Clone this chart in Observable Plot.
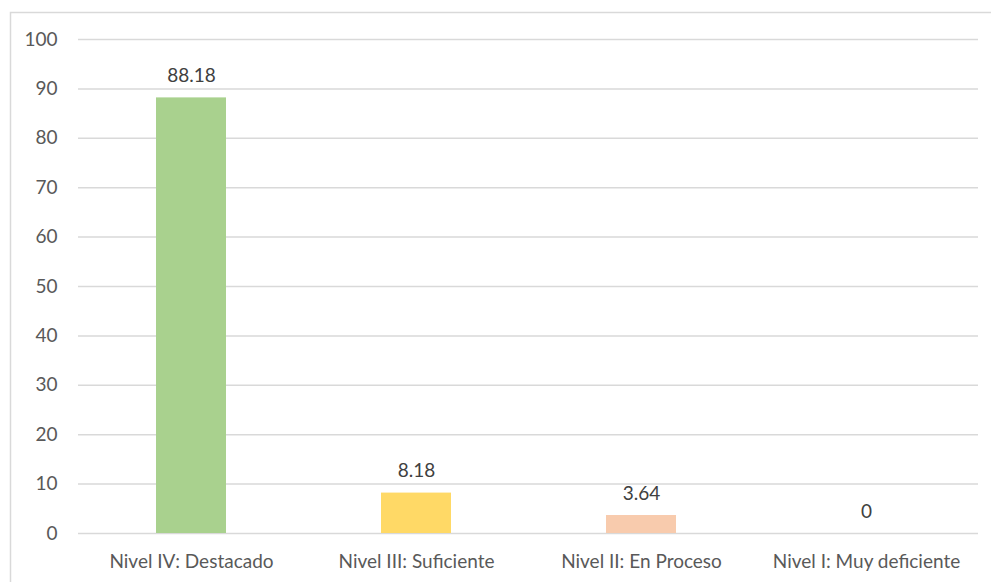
<!DOCTYPE html>
<html>
<head>
<meta charset="utf-8">
<script src="https://cdn.jsdelivr.net/npm/d3@7"></script>
<script src="https://cdn.jsdelivr.net/npm/@observablehq/plot@0.6"></script>
<style>
  html, body { margin: 0; padding: 0; background: #ffffff; }
  #chart svg { display: block; }
</style>
</head>
<body>
<div id="chart"></div>
<script>
// Achievement levels and their percentages
const niveles = ["Nivel IV: Destacado", "Nivel III: Suficiente", "Nivel II: En Proceso", "Nivel I: Muy deficiente"];
const porcentajes = [88.18, 8.18, 3.64, 0];
const colores = ["#A9D18E", "#FFD966", "#F8CBAD", "#9DC3E6"];
const yTicks = [0, 10, 20, 30, 40, 50, 60, 70, 80, 90, 100];

const data = niveles.map((nivel, i) => ({nivel, valor: porcentajes[i], color: colores[i]}));

const chart = Plot.plot({
  width: 991,
  height: 582,
  marginTop: 39,
  marginBottom: 49,
  marginLeft: 78,
  marginRight: 13,
  style: {fontFamily: "Lato, sans-serif", fontSize: "19px", color: "#595959", background: "#ffffff"},
  x: {domain: niveles, paddingInner: 0.689, paddingOuter: 0.3445, label: null, tickSize: 0, tickPadding: 21},
  y: {domain: [0, 100], ticks: yTicks, label: null, tickSize: 0, tickPadding: 21, tickFormat: d => String(d)},
  marks: [
    Plot.frame({stroke: "#D9D9D9", strokeWidth: 1.5, insetLeft: -68, insetTop: -27, insetRight: -30, insetBottom: -60}),
    Plot.gridY(yTicks, {stroke: "#D9D9D9", strokeOpacity: 1, strokeWidth: 1.5}),
    Plot.barY(data, {x: "nivel", y: "valor", fill: "color"}),
    Plot.text(data, {x: "nivel", y: "valor", text: d => String(d.valor), dy: -22, fill: "#404040", fontSize: 19})
  ]
});

document.getElementById("chart").appendChild(chart);
</script>
</body>
</html>
